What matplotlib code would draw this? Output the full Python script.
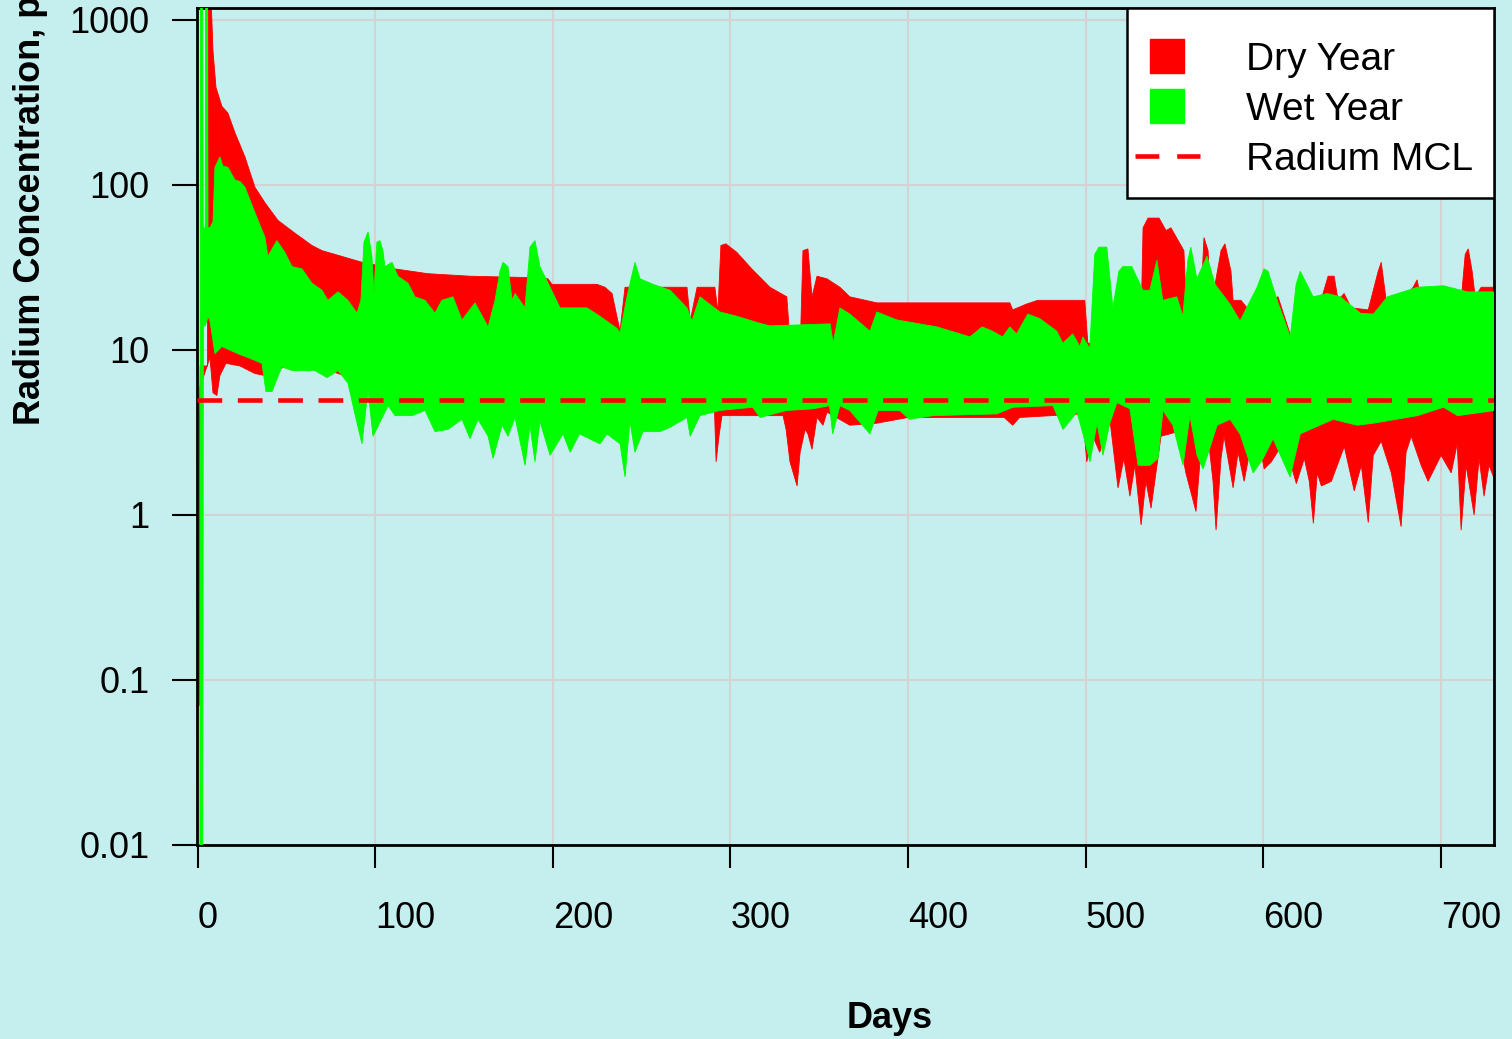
import matplotlib
matplotlib.use("Agg")
import matplotlib.pyplot as plt
import numpy as np
from matplotlib.lines import Line2D
from matplotlib.patches import Rectangle
from matplotlib.ticker import NullLocator

# upper / lower envelopes of the daily radium series
dry_hi_day = [0.7, 1.0, 1.5, 5.6, 6.1, 7.5, 8.7, 10.4, 13.7, 17.1, 21.1, 26.7, 32.3, 38.0, 45.3,
              54.9, 64.4, 70.1, 79.1, 92.6, 111.2, 129.7, 153.4, 184.4, 197.3, 199.6, 224.9, 229.4,
              233.4, 237.9, 240.7, 275.6, 277.4, 281.3, 291.3, 293.0, 294.7, 297.5, 303.7, 312.7,
              322.3, 331.8, 333.0, 339.7, 340.9, 343.7, 346.0, 348.8, 354.4, 361.7, 367.3, 382.5,
              457.4, 459.0, 466.9, 473.1, 499.6, 501.3, 503.5, 531.3, 532.4, 535.2, 541.4, 545.3,
              548.1, 555.4, 557.1, 565.0, 566.7, 569.0, 570.6, 576.3, 578.5, 581.9, 583.1, 587.5,
              594.9, 601.6, 608.4, 615.7, 632.6, 636.6, 640.0, 642.2, 645.6, 649.6, 659.2, 664.8,
              666.5, 669.3, 677.7, 684.5, 686.7, 689.0, 711.5, 713.8, 715.5, 717.7, 719.4, 722.8, 730.7]
dry_hi = [0.07, 2.0, 8, 8, 1500, 1500, 650, 390, 300, 273, 207, 148, 97, 78, 61,
          51, 43, 40, 37.5, 34, 31, 29, 28, 27.5, 27, 25, 25, 24,
          22, 13, 24, 24, 15, 24, 24, 17, 43, 44, 39, 30.5,
          24, 21, 14, 14, 40, 41, 21, 28, 27, 24, 21, 19.3,
          19.3, 17.5, 19, 20, 20, 11, 11, 15, 55, 63, 63, 53,
          55, 40, 15, 20, 48, 40, 18, 40, 44, 30, 20, 20,
          16, 20, 21, 12, 20, 28, 28, 20, 22, 18, 17.5, 30,
          34, 20, 20, 24, 26.6, 20, 20, 38, 41, 30, 21, 24, 24]

dry_lo_day = [0.7, 1.0, 1.5, 7.0, 8.7, 10.9, 12.6, 16.0, 23.9, 32.3, 38.0, 50.0, 70.0, 100.0,
              290.9, 292.0, 293.6, 295.3, 329.7, 331.4, 333.6, 337.6, 339.3, 342.1, 343.7, 346.0,
              348.8, 352.2, 354.4, 367.3, 382.5, 400.1, 454.2, 459.0, 462.9, 498.5, 500.7, 504.1,
              508.0, 513.7, 518.3, 521.6, 525.0, 527.8, 531.3, 534.0, 536.9, 542.5, 552.1, 556.5,
              562.2, 565.0, 569.0, 571.8, 573.5, 576.3, 578.0, 583.1, 585.9, 589.3, 593.3, 597.2,
              600.6, 604.6, 611.9, 618.7, 623.2, 626.0, 628.3, 630.5, 632.8, 638.4, 645.7, 651.3,
              655.3, 659.2, 662.0, 666.5, 672.2, 677.7, 680.5, 683.4, 689.0, 692.9, 700.2, 705.9,
              709.3, 711.5, 714.3, 718.8, 721.6, 724.4, 727.2, 730.7]
dry_lo = [0.07, 0.07, 6, 9, 5.5, 5.3, 7, 8.3, 8.0, 7.2, 7.0, 8.0, 7.8, 6.0,
          5.0, 2.1, 3.0, 4.0, 4.0, 3.3, 2.1, 1.5, 2.4, 3.3, 3.1, 2.5,
          3.9, 3.5, 4.2, 3.5, 3.6, 3.9, 3.9, 3.5, 3.9, 4.1, 2.1, 3.0,
          2.4, 3.8, 1.46, 2.2, 1.3, 2.0, 0.87, 1.6, 1.1, 3.0, 3.2, 1.8,
          1.05, 2.5, 3.0, 1.6, 0.81, 2.2, 3.0, 1.46, 2.4, 1.6, 2.7, 3.0,
          1.9, 2.1, 2.8, 1.55, 2.2, 1.6, 0.89, 1.8, 1.5, 1.6, 2.6, 1.4,
          2.0, 0.9, 2.3, 2.8, 1.8, 0.85, 2.4, 3.0, 2.0, 1.6, 2.3, 1.8,
          2.7, 0.81, 2.0, 1.0, 2.2, 1.3, 2.0, 1.6]

wet_hi_day = [1.3, 1.6, 2.9, 3.2, 4.3, 4.5, 5.6, 5.9, 7.0, 8.7, 9.8, 12.6, 14.3, 17.1, 21.1,
              23.9, 26.7, 32.3, 38.0, 39.6, 44.7, 49.2, 53.2, 58.8, 64.4, 70.1, 73.4, 79.1, 84.7,
              89.8, 92.0, 93.7, 96.0, 98.2, 99.3, 101.0, 102.7, 104.4, 105.5, 109.5, 112.8, 118.5,
              122.4, 128.1, 133.7, 137.6, 143.8, 148.9, 156.2, 163.6, 167.5, 170.3, 172.0, 174.8,
              177.1, 178.8, 184.4, 187.2, 190.0, 192.8, 198.5, 204.1, 219.3, 226.6, 236.2, 237.9,
              241.8, 246.3, 249.2, 256.5, 266.1, 275.6, 278.4, 282.9, 294.1, 303.7, 316.7, 322.3,
              356.2, 357.9, 361.7, 367.3, 378.6, 382.5, 393.8, 416.3, 434.9, 441.8, 447.6, 453.3,
              457.4, 461.2, 467.5, 474.2, 483.8, 487.2, 492.8, 496.8, 498.5, 502.4, 505.2, 507.5,
              512.0, 515.4, 518.8, 521.0, 526.1, 532.3, 536.2, 540.2, 543.5, 551.4, 554.8, 557.6,
              559.3, 562.7, 568.4, 572.9, 581.3, 587.0, 596.6, 600.5, 602.8, 607.9, 615.3, 618.6,
              620.9, 628.2, 636.1, 643.5, 654.8, 662.1, 670.0, 686.9, 701.6, 715.1, 730.7]
wet_hi = [0.005, 1500, 1500, 55, 55, 1500, 1500, 55, 55, 60, 128, 148, 130, 128, 107,
          105, 97, 68, 48, 37, 46, 39, 32, 31, 25.4, 23, 20, 22.5, 20,
          16.7, 20, 45, 52, 37, 22, 45, 46, 40, 32, 34, 28, 25.4,
          21, 20, 16.7, 20, 21, 15.2, 19.3, 13.8, 20, 30, 34, 32,
          20, 22, 18, 42, 46, 32, 24, 18, 18, 16, 13.5, 12.7,
          21, 34, 27, 25, 23, 18, 15, 21, 17, 16, 14.5, 14,
          14.4, 11, 18, 16.5, 13, 17, 15.2, 13.8, 12, 13.8, 13, 12,
          13.8, 12.5, 16.5, 15.5, 13, 11, 12.5, 10.5, 12, 10.2, 38, 42,
          42, 18, 30, 32, 32, 23, 23, 35, 20, 21, 16, 35,
          42, 27, 37, 25, 19, 15, 24, 31, 30, 20, 12, 25,
          30, 21, 22, 21, 16.7, 16.5, 21, 24, 24.5, 22.5, 22.5]

wet_lo_day = [1.3, 2.9, 3.3, 4.4, 5.9, 7.0, 9.8, 13.7, 22.7, 28.4, 36.3, 38.5, 41.9, 47.5, 53.2,
              66.1, 72.9, 79.1, 84.7, 88.6, 92.6, 96.0, 98.8, 104.0, 107.3, 111.2, 120.8, 128.1,
              133.7, 141.0, 148.9, 153.4, 157.9, 163.6, 166.4, 171.5, 174.8, 178.8, 184.4, 187.2,
              190.0, 192.8, 198.5, 205.8, 209.8, 215.1, 226.6, 230.5, 237.9, 240.7, 243.5, 246.3,
              250.8, 260.4, 266.1, 275.6, 277.4, 282.9, 294.1, 312.6, 316.7, 331.7, 346.4, 355.9,
              357.6, 361.7, 367.3, 378.6, 383.2, 395.3, 401.0, 414.0, 450.0, 459.2, 481.7, 487.3,
              495.2, 498.6, 502.5, 506.5, 509.8, 513.7, 517.7, 525.0, 529.6, 536.3, 540.8, 543.6,
              549.2, 554.9, 558.8, 562.8, 566.2, 574.1, 581.4, 587.0, 594.4, 600.0, 605.6, 615.2,
              620.9, 626.5, 639.5, 653.0, 662.0, 686.9, 701.6, 709.5, 730.7]
wet_lo = [0.005, 0.005, 14, 14, 16, 15, 9.5, 10.5, 9.5, 9, 8.3, 5.6, 5.6, 7.9, 7.5,
          7.5, 6.8, 7.5, 6.3, 4.1, 2.7, 5.7, 3.0, 3.9, 4.6, 4.0, 4.0, 4.3,
          3.2, 3.3, 3.8, 2.9, 3.8, 3.0, 2.2, 3.5, 3.0, 3.9, 2.0, 3.5,
          2.1, 3.7, 2.3, 3.1, 2.4, 3.1, 2.7, 3.1, 2.7, 1.7, 3.7, 2.4,
          3.2, 3.2, 3.4, 3.9, 3.0, 4.0, 4.3, 4.5, 3.9, 4.3, 4.4, 4.6,
          3.1, 4.6, 4.3, 3.1, 4.3, 4.3, 3.8, 4.0, 4.1, 4.5, 4.6, 3.3,
          4.2, 3.1, 2.1, 3.6, 2.3, 3.6, 4.8, 4.4, 2.0, 2.0, 2.2, 4.3,
          3.5, 2.0, 4.0, 2.3, 1.9, 3.5, 3.8, 3.1, 1.8, 2.2, 2.9, 1.7,
          3.1, 3.3, 3.8, 3.5, 3.6, 4.0, 4.5, 4.0, 4.3]

radium_mcl = 5.0
x_ticks = [0, 100, 200, 300, 400, 500, 600, 700]
y_ticks = [0.01, 0.1, 1, 10, 100, 1000]
y_tick_labels = ["0.01", "0.1", "1", "10", "100", "1000"]

plt.rcParams['font.family'] = ['Liberation Sans', 'DejaVu Sans']

bg = '#C4EFEE'
fig = plt.figure(figsize=(15.12, 10.39), dpi=100, facecolor=bg)
ax = fig.add_axes([197 / 1512, 1 - 845 / 1039, 1297 / 1512, 837 / 1039], facecolor=bg)
ax.set_yscale('log')


def band(days_hi, hi, days_lo, lo):
    """polygon running along the upper envelope and back along the lower one"""
    xs = np.concatenate([np.asarray(days_hi), np.asarray(days_lo)[::-1]])
    ys = np.concatenate([np.asarray(hi), np.asarray(lo)[::-1]])
    return xs, ys


xs, ys = band(dry_hi_day, dry_hi, dry_lo_day, dry_lo)
ax.fill(xs, ys, color='#FF0000', lw=0.6, zorder=2)
xs, ys = band(wet_hi_day, wet_hi, wet_lo_day, wet_lo)
ax.fill(xs, ys, color='#00FF00', lw=0.6, zorder=3)

ax.axhline(radium_mcl, color='#FF0000', lw=3.3, ls=(0, (5.4, 3.4)), zorder=4)

ax.set_xlim(-0.3, 730)
ax.set_ylim(0.01, 1182)
ax.set_xticks(x_ticks)
ax.set_xticklabels([str(t) for t in x_ticks])
for lbl in ax.get_xticklabels():
    lbl.set_ha('left')
ax.set_yticks(y_ticks)
ax.set_yticklabels(y_tick_labels)
ax.yaxis.set_minor_locator(NullLocator())
ax.tick_params(axis='y', length=18, width=1.5, pad=16, labelsize=26)
ax.tick_params(axis='x', length=16.5, width=1.5, pad=24, labelsize=26)
ax.grid(True, color='#D3D3D3', lw=1.5)
ax.set_axisbelow(True)
for sp in ax.spines.values():
    sp.set_linewidth(2)
    sp.set_color('black')

# legend box
ax.add_patch(Rectangle((0.717, 0.773), 0.283, 0.227, transform=ax.transAxes,
                       facecolor='white', edgecolor='black', lw=1.8, zorder=5))
handles = [Line2D([], [], marker='s', ms=24, color='#FF0000', ls='none'),
           Line2D([], [], marker='s', ms=24, color='#00FF00', ls='none'),
           Line2D([], [], color='#FF0000', lw=3.3, ls=(0, (5.2, 3.9)))]
leg = ax.legend(handles, ['Dry Year', 'Wet Year', 'Radium MCL'], loc='upper left',
                bbox_to_anchor=((1135 - 197) / 1297, (845 - 42) / 837),
                frameon=False, borderpad=0, borderaxespad=0, fontsize=28,
                handlelength=1.67, handletextpad=1.18, labelspacing=0.36)
leg.set_zorder(6)

fig.text(31 / 1512, 1 - 425 / 1039, 'Radium Concentration, pCi/L', rotation=90,
         ha='center', va='bottom', fontsize=26, fontweight='bold')
fig.text(890 / 1512, 1 - 1018 / 1039, 'Days', ha='center', va='center',
         fontsize=26, fontweight='bold')

fig.savefig('out.png', dpi=100, facecolor=bg)
